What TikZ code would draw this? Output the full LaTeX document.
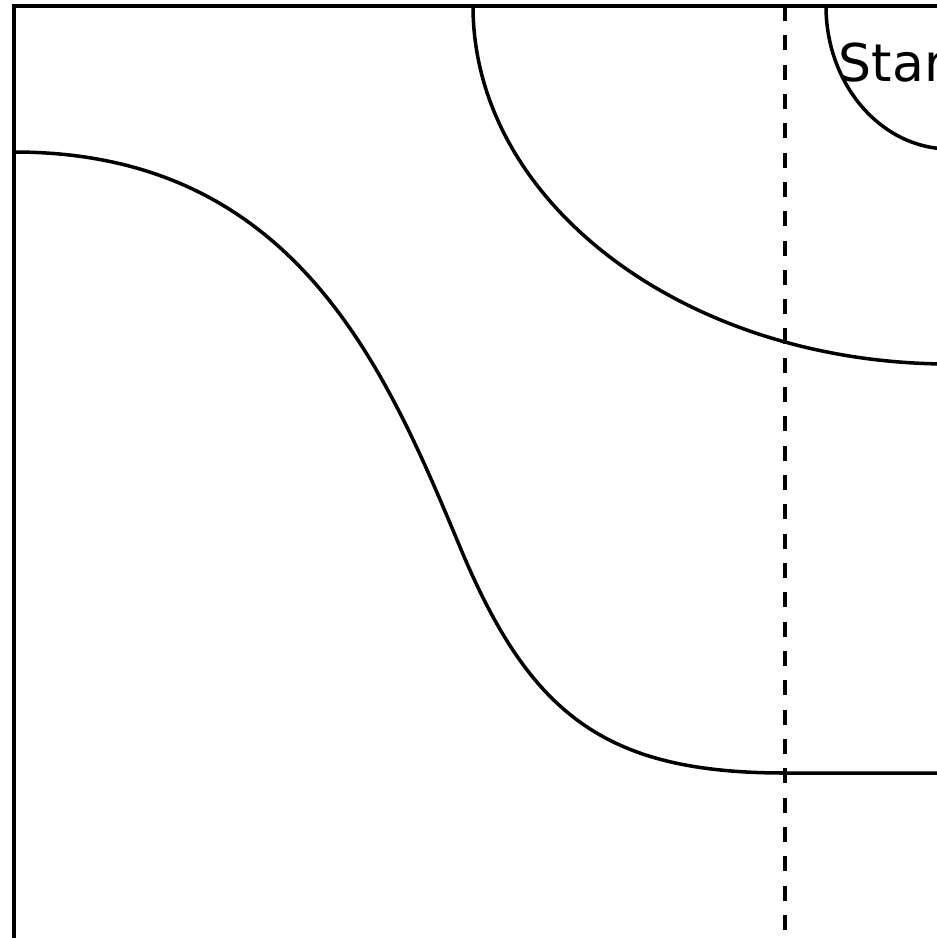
\documentclass[tikz,border=0pt]{standalone}
\usepackage{fontspec}
\setmainfont{DejaVu Sans}
\usetikzlibrary{positioning}

\begin{document}
\begin{tikzpicture}[
    x=0.01cm, y=-0.01cm,
    edge/.style={line width=1pt, line join=round},
    frame/.style={line width=1.15pt},
    divider/.style={line width=1.2pt, dash pattern=on 0.15cm off 0.143cm},
    lbl/.style={font=\fontsize{14.8pt}{16pt}\selectfont, inner sep=0pt, anchor=base west},
]
\useasboundingbox (0,0) rectangle (937,938);
\clip (0,0) rectangle (937,938);

% outer frame, only the top-left corner shows
\draw[frame] (14,1000) -- (14,6) -- (1000,6);

% vertical divider
\draw[divider] (785,6) -- (785,1000);

% contours around the start
\draw[edge] (826,6) arc[start angle=180, end angle=90, x radius=124, y radius=143];
\draw[edge] (473,6) arc[start angle=180, end angle=90, x radius=477, y radius=358];

% S-shaped boundary
\draw[edge] (14,152) .. controls (294,152) and (385,367) .. (460,547)
    .. controls (530,715) and (605,773) .. (785,773) -- (1000,773);

\node[lbl] (start) at (838,81) {Start};
\end{tikzpicture}
\end{document}
